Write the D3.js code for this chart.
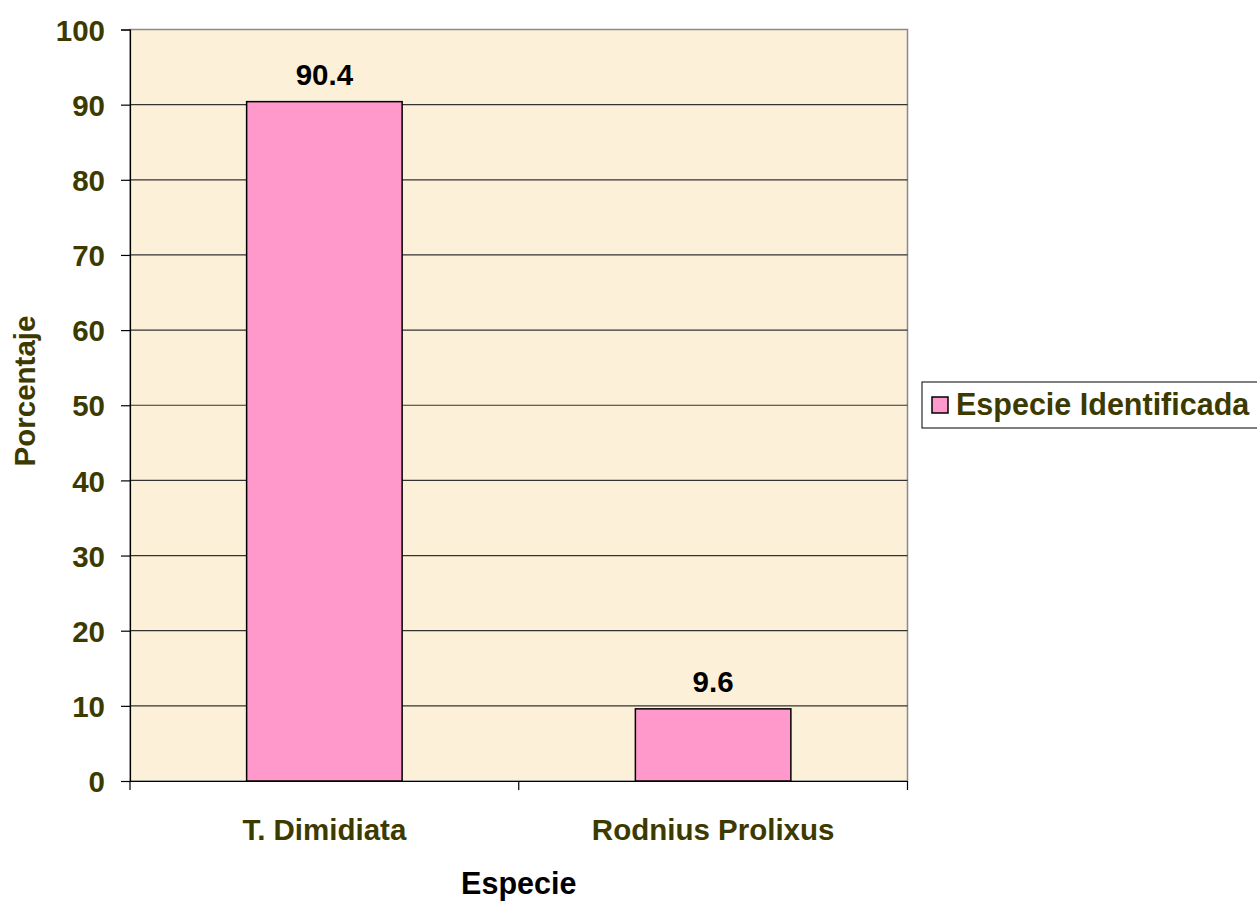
<!DOCTYPE html>
<html>
<head>
<meta charset="utf-8">
<script src="https://cdn.jsdelivr.net/npm/d3@7"></script>
<style>
  body { margin: 0; background: #fff; }
  text { font-family: "Liberation Sans", Arial, sans-serif; font-weight: bold; }
</style>
</head>
<body>
<div id="chart"></div>
<script>
// data
const species = ["T. Dimidiata", "Rodnius Prolixus"];
const percent = [90.4, 9.6];
const yTicks = [0, 10, 20, 30, 40, 50, 60, 70, 80, 90, 100];
const seriesName = "Especie Identificada";

const width = 1257, height = 901;
const plot = { left: 130, top: 29.5, right: 907.5, bottom: 781 };
const olive = "#3d3a00";
const fs = "29.5px";
const fsBig = "30.5px";

const svg = d3.select("#chart").append("svg")
  .attr("width", width)
  .attr("height", height);

// scales
const x = d3.scaleBand()
  .domain(species)
  .range([plot.left, plot.right]);

const y = d3.scaleLinear()
  .domain([0, 100])
  .range([plot.bottom, plot.top]);

const barW = x.bandwidth() * 0.4;

// plot background
svg.append("rect")
  .attr("x", plot.left).attr("y", plot.top)
  .attr("width", plot.right - plot.left)
  .attr("height", plot.bottom - plot.top)
  .attr("fill", "#fcf0d9")
  .attr("stroke", "#8a8a8a")
  .attr("stroke-width", 1.5);

// gridlines
svg.append("g")
  .selectAll("line")
  .data(yTicks.filter(d => d > 0 && d < 100))
  .join("line")
  .attr("x1", plot.left).attr("x2", plot.right)
  .attr("y1", d => y(d)).attr("y2", d => y(d))
  .attr("stroke", "#333")
  .attr("stroke-width", 1.2);

// y axis
const yAxis = svg.append("g")
  .attr("transform", "translate(" + plot.left + ",0)")
  .call(d3.axisLeft(y).tickValues(yTicks).tickSize(9).tickPadding(16));
yAxis.select(".domain").attr("stroke", "#000").attr("stroke-width", 1.2);
yAxis.selectAll(".tick line").attr("stroke", "#000").attr("stroke-width", 1.2);
yAxis.selectAll(".tick text")
  .attr("fill", olive)
  .style("font-size", fs)
  .attr("dy", "0.36em");

// x axis
const xAxis = svg.append("g")
  .attr("transform", "translate(0," + plot.bottom + ")")
  .call(d3.axisBottom(x).tickSize(0).tickPadding(0));
xAxis.select(".domain").attr("stroke", "#000").attr("stroke-width", 1.2);
xAxis.selectAll(".tick text")
  .attr("fill", olive)
  .attr("dy", 0)
  .attr("y", 59)
  .style("font-size", fs);

// x tick marks sit at the band boundaries
svg.append("g")
  .selectAll("line")
  .data([plot.left, plot.left + x.step(), plot.right])
  .join("line")
  .attr("x1", d => d).attr("x2", d => d)
  .attr("y1", plot.bottom).attr("y2", plot.bottom + 9)
  .attr("stroke", "#000")
  .attr("stroke-width", 1.2);

// bars
svg.append("g")
  .selectAll("rect")
  .data(species)
  .join("rect")
  .attr("x", (d) => x(d) + (x.bandwidth() - barW) / 2)
  .attr("y", (d, i) => y(percent[i]))
  .attr("width", barW)
  .attr("height", (d, i) => y(0) - y(percent[i]))
  .attr("fill", "#ff99cc")
  .attr("stroke", "#000")
  .attr("stroke-width", 1.5);

// value labels
svg.append("g")
  .selectAll("text")
  .data(species)
  .join("text")
  .attr("x", d => x(d) + x.bandwidth() / 2)
  .attr("y", (d, i) => y(percent[i]) - 17)
  .attr("text-anchor", "middle")
  .attr("fill", "#000")
  .style("font-size", fs)
  .text((d, i) => percent[i]);

// axis titles
svg.append("text")
  .attr("x", (plot.left + plot.right) / 2)
  .attr("y", 894)
  .attr("text-anchor", "middle")
  .attr("fill", "#000")
  .style("font-size", fsBig)
  .text("Especie");

svg.append("text")
  .attr("transform", "translate(35,391) rotate(-90)")
  .attr("text-anchor", "middle")
  .attr("fill", olive)
  .style("font-size", fs)
  .text("Porcentaje");

// legend
const legend = svg.append("g").attr("transform", "translate(922,382)");
legend.append("rect")
  .attr("width", 345).attr("height", 46)
  .attr("fill", "#fff")
  .attr("stroke", "#000")
  .attr("stroke-width", 1);
legend.append("rect")
  .attr("x", 10).attr("y", 15)
  .attr("width", 16).attr("height", 16)
  .attr("fill", "#ff99cc")
  .attr("stroke", "#000")
  .attr("stroke-width", 1.5);
legend.append("text")
  .attr("x", 34).attr("y", 33)
  .attr("fill", olive)
  .style("font-size", fsBig)
  .text(seriesName);
</script>
</body>
</html>
